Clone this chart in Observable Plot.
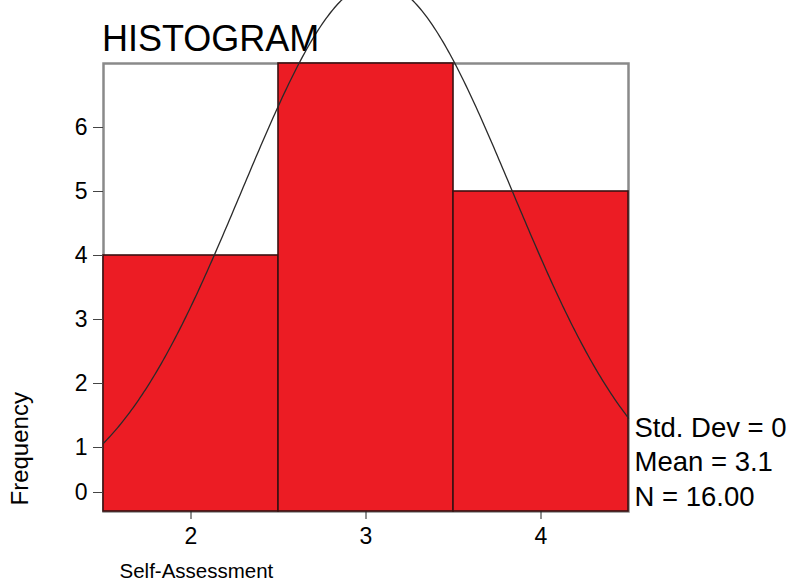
<!DOCTYPE html>
<html>
<head>
<meta charset="utf-8">
<script src="https://cdn.jsdelivr.net/npm/d3@7"></script>
<script src="https://cdn.jsdelivr.net/npm/@observablehq/plot@0.6"></script>
<style>
  html, body { margin: 0; padding: 0; background: #fff; }
  #wrap { position: relative; width: 790px; height: 580px; font-family: "Liberation Sans", Arial, sans-serif; }
  #title { position: absolute; left: 102px; top: 21px; font-size: 36px; line-height: 36px; color: #000; z-index: 2; }
</style>
</head>
<body>
<div id="wrap"><div id="title">HISTOGRAM</div></div>
<script>
// Histogram data
const bins = [2, 3, 4];
const counts = [4, 7, 5];
const binWidth = 1;
const xTicks = [2, 3, 4];
const yTicks = [1, 2, 3, 4, 5, 6];
const statLines = ["Std. Dev = 0", "Mean = 3.1", "N = 16.00"];
const xLabel = "Self-Assessment";
const yLabel = "Frequency";

const data = bins.map((b, i) => ({bin: b, count: counts[i]}));

// Fitted normal curve (from the histogram's own N, mean and sd)
const N = d3.sum(counts);
const mean = d3.sum(bins.map((b, i) => b * counts[i])) / N;
const sd = Math.sqrt(d3.sum(bins.map((b, i) => counts[i] * (b - mean) ** 2)) / (N - 1));
const xmin = bins[0] - binWidth / 2, xmax = bins[bins.length - 1] + binWidth / 2;
const curve = d3.range(0, 301).map(i => {
  const x = xmin + (xmax - xmin) * i / 300;
  const z = (x - mean) / sd;
  return {x, y: N * binWidth * Math.exp(-0.5 * z * z) / (sd * Math.sqrt(2 * Math.PI))};
});

const font = "'Liberation Sans', Arial, sans-serif";
const fmt = d3.format("d");

const chart = Plot.plot({
  width: 790,
  height: 580,
  marginLeft: 103,
  marginRight: 162,
  marginTop: 63,
  marginBottom: 69,
  style: {fontFamily: font, fontSize: "23px", background: "transparent", overflow: "visible"},
  x: {domain: [xmin, xmax]},
  y: {domain: [0, 7]},
  marks: [
    Plot.frame({stroke: "#8a8a8a", strokeWidth: 2.5}),
    Plot.rectY(data, {x1: d => d.bin - binWidth / 2, x2: d => d.bin + binWidth / 2, y: "count",
      fill: "#ec1c24", stroke: "#3a1212", strokeWidth: 1.6}),
    Plot.line(curve, {x: "x", y: "y", stroke: "#2a2a2a", strokeWidth: 1.3}),
    Plot.axisX({ticks: xTicks, tickFormat: fmt, tickSize: 8, tickPadding: 8, fontSize: 23, label: null, stroke: "#222", fill: "#000"}),
    Plot.axisY({ticks: yTicks, tickFormat: fmt, tickSize: 10, tickPadding: 6, fontSize: 23, label: null, stroke: "#444", fill: "#000"}),
    Plot.axisY({ticks: [0], tickFormat: fmt, tickSize: 10, tickPadding: 6, fontSize: 23, label: null, stroke: "#444", fill: "#000", dy: -19}),
    Plot.text([statLines.join("\n")], {frameAnchor: "bottom-right", textAnchor: "start", lineAnchor: "bottom",
      dx: 6, dy: -6, fontSize: 27.5, lineHeight: 1.25, fill: "#000"}),
    Plot.text([xLabel], {frameAnchor: "bottom-left", textAnchor: "start", lineAnchor: "bottom",
      dx: 16, dy: 66, fontSize: 20.5, fill: "#000"}),
    Plot.text([yLabel], {frameAnchor: "bottom-left", textAnchor: "start", lineAnchor: "middle",
      rotate: -90, dx: -83, dy: -6, fontSize: 24, fill: "#000"})
  ]
});
document.getElementById("wrap").appendChild(chart);
</script>
</body>
</html>
